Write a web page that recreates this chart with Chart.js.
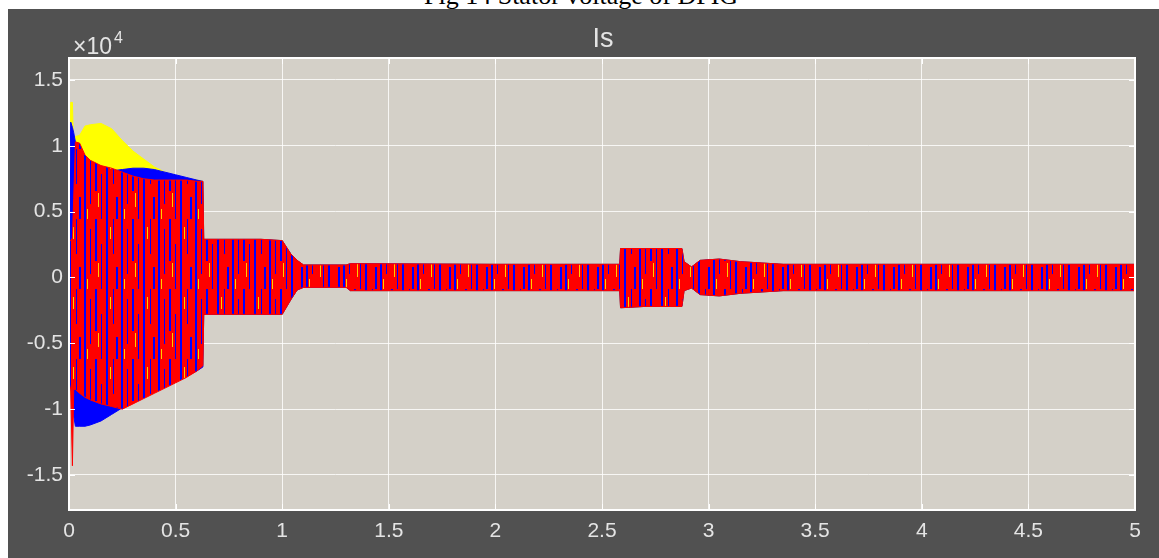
<!DOCTYPE html>
<html>
<head>
<meta charset="utf-8">
<script src="https://cdn.jsdelivr.net/npm/chart.js@4.4.1/dist/chart.umd.min.js"></script>
<style>
  html, body { margin: 0; padding: 0; background: #fff; overflow: hidden; width: 1159px; height: 558px; }
  #cap { position: absolute; left: 424px; top: -17px; font: 26px 'Liberation Serif', 'Times New Roman', serif;
         line-height: 26px; color: #000; white-space: nowrap; }
  #panel { position: absolute; left: 8px; top: 9px; width: 1151px; height: 549px; background: #515151; }
  canvas { display: block; }
</style>
</head>
<body>
<div id="cap">Fig 14 Stator voltage of DFIG</div>
<div id="panel"><canvas id="scope" width="1151" height="549"></canvas></div>
<script>
// time (s) and envelope of each phase current (x10^4 A)
const time = [0, 0.008, 0.016, 0.022, 0.03, 0.05, 0.075, 0.1, 0.15, 0.2, 0.25, 0.3, 0.35, 0.4, 0.45,
  0.5, 0.55, 0.6, 0.628, 0.632, 0.7, 0.8, 0.9, 1.0, 1.04, 1.07, 1.1, 1.3, 1.32, 2.0,
  2.583, 2.587, 2.7, 2.875, 2.885, 2.92, 2.96, 3.05, 3.15, 3.25, 3.35, 4.0, 5.0];

const redHi = [0.28, 0.28, 0.3, 0.6, 1.03, 1.02, 0.93, 0.89, 0.85, 0.83, 0.8, 0.77, 0.75, 0.74, 0.74,
  0.74, 0.74, 0.73, 0.73, 0.29, 0.29, 0.29, 0.29, 0.28, 0.18, 0.13, 0.095, 0.095, 0.105, 0.1,
  0.1, 0.22, 0.22, 0.22, 0.12, 0.08, 0.13, 0.14, 0.12, 0.11, 0.1, 0.1, 0.1];
const redLo = [-0.8, -0.85, -1.43, -0.85, -0.85, -0.88, -0.91, -0.93, -0.96, -0.98, -1.0, -0.96, -0.92, -0.88, -0.84,
  -0.8, -0.76, -0.71, -0.67, -0.28, -0.28, -0.28, -0.28, -0.28, -0.17, -0.095, -0.075, -0.075, -0.1, -0.1,
  -0.1, -0.23, -0.22, -0.22, -0.1, -0.08, -0.13, -0.14, -0.12, -0.11, -0.1, -0.1, -0.1];

const blueHi = [0.28, 1.18, 1.14, 1.1, 1.03, 0.96, 0.9, 0.87, 0.83, 0.81, 0.82, 0.83, 0.83, 0.82, 0.8,
  0.78, 0.76, 0.74, 0.73, 0.29, 0.29, 0.29, 0.29, 0.28, 0.18, 0.13, 0.095, 0.095, 0.105, 0.1,
  0.1, 0.22, 0.22, 0.22, 0.12, 0.08, 0.13, 0.14, 0.12, 0.11, 0.1, 0.1, 0.1];
const blueLo = [-0.82, -0.84, -0.9, -1.05, -1.13, -1.13, -1.13, -1.12, -1.09, -1.04, -0.99, -0.95, -0.9, -0.86, -0.82,
  -0.79, -0.75, -0.71, -0.68, -0.28, -0.28, -0.28, -0.28, -0.28, -0.17, -0.095, -0.075, -0.075, -0.1, -0.1,
  -0.1, -0.23, -0.22, -0.22, -0.1, -0.08, -0.13, -0.14, -0.12, -0.11, -0.1, -0.1, -0.1];

const yellowHi = [0.28, 1.33, 1.33, 0.95, 1.07, 1.08, 1.15, 1.16, 1.17, 1.13, 1.04, 0.96, 0.9, 0.84, 0.8,
  0.77, 0.75, 0.74, 0.73, 0.29, 0.29, 0.29, 0.29, 0.28, 0.18, 0.13, 0.095, 0.095, 0.105, 0.1,
  0.1, 0.22, 0.22, 0.22, 0.12, 0.08, 0.13, 0.14, 0.12, 0.11, 0.1, 0.1, 0.1];
const yellowLo = [-0.8, -0.89, -0.89, -0.85, -0.85, -0.87, -0.9, -0.92, -0.95, -0.97, -0.98, -0.95, -0.9, -0.86, -0.83,
  -0.79, -0.75, -0.7, -0.66, -0.28, -0.28, -0.28, -0.28, -0.28, -0.17, -0.095, -0.075, -0.075, -0.1, -0.1,
  -0.1, -0.23, -0.22, -0.22, -0.1, -0.08, -0.13, -0.14, -0.12, -0.11, -0.1, -0.1, -0.1];

const xTicks = [0, 0.5, 1, 1.5, 2, 2.5, 3, 3.5, 4, 4.5, 5];
const yTicks = [-1.5, -1, -0.5, 0, 0.5, 1, 1.5];

const TXT = '#e4e4e4';
const FONT = "'Liberation Sans', Arial, sans-serif";

// red trace with the other phases showing through as thin stripes
function stripes() {
  const c = document.createElement('canvas');
  c.width = 37; c.height = 70;
  const g = c.getContext('2d');
  g.fillStyle = '#ff0000';
  g.fillRect(0, 0, 37, 70);
  g.fillStyle = '#0000ff';
  [[2, 2, 0, 70], [8, 1, 10, 55], [13, 2, 0, 42], [19, 1, 25, 70], [24, 2, 0, 70], [31, 1, 0, 35], [34, 2, 48, 70]]
    .forEach(([x, w, a, b]) => g.fillRect(x, a, w, b - a));
  g.fillStyle = '#ffcc00';
  [[16, 1, 44, 58], [28, 1, 8, 20], [5, 1, 60, 70]].forEach(([x, w, a, b]) => g.fillRect(x, a, w, b - a));
  return g.createPattern(c, 'repeat');
}

const pts = ys => time.map((t, i) => ({ x: t, y: ys[i] }));

function band(hi, lo, color, fillStyle) {
  return [
    { data: pts(hi), borderColor: color, borderWidth: 1, pointRadius: 0, fill: false },
    { data: pts(lo), borderColor: color, borderWidth: 1, pointRadius: 0, fill: '-1', backgroundColor: fillStyle || color }
  ];
}

const scopeFrame = {
  id: 'scopeFrame',
  beforeDraw(chart) {
    const { ctx, chartArea: a } = chart;
    ctx.save();
    ctx.fillStyle = '#d4d0c8';
    ctx.fillRect(a.left, a.top, a.right - a.left, a.bottom - a.top);
    ctx.restore();
  },
  afterDraw(chart) {
    const { ctx, chartArea: a, scales } = chart;
    ctx.save();
    // inward ticks
    ctx.strokeStyle = '#ffffff';
    ctx.lineWidth = 1;
    ctx.beginPath();
    xTicks.forEach(v => {
      const x = Math.round(scales.x.getPixelForValue(v)) + 0.5;
      ctx.moveTo(x, a.bottom); ctx.lineTo(x, a.bottom - 6);
      ctx.moveTo(x, a.top); ctx.lineTo(x, a.top + 6);
    });
    yTicks.forEach(v => {
      const y = Math.round(scales.y.getPixelForValue(v)) + 0.5;
      ctx.moveTo(a.left, y); ctx.lineTo(a.left + 6, y);
      ctx.moveTo(a.right, y); ctx.lineTo(a.right - 6, y);
    });
    ctx.stroke();
    // box
    ctx.lineWidth = 2;
    ctx.strokeRect(a.left, a.top, a.right - a.left, a.bottom - a.top);

    // title
    ctx.fillStyle = TXT;
    ctx.font = '27px ' + FONT;
    ctx.textAlign = 'center';
    ctx.textBaseline = 'alphabetic';
    ctx.fillText('Is', (a.left + a.right) / 2 + 1, 38);

    // exponent label
    ctx.textAlign = 'left';
    ctx.font = '23px ' + FONT;
    const base = '\u00d710';
    ctx.fillText(base, a.left + 4, 45);
    const w = ctx.measureText(base).width;
    ctx.font = '16px ' + FONT;
    ctx.fillText('4', a.left + 4 + w + 2, 34);
    ctx.restore();
  }
};

new Chart(document.getElementById('scope'), {
  type: 'line',
  data: {
    datasets: [
      ...band(redHi, redLo, '#ff0000', stripes()),
      ...band(blueHi, blueLo, '#0000ff'),
      ...band(yellowHi, yellowLo, '#ffff00')
    ]
  },
  options: {
    responsive: false,
    animation: false,
    events: [],
    layout: { padding: { left: 11, right: 24, top: 49, bottom: 8 } },
    elements: { line: { tension: 0 } },
    plugins: { legend: { display: false }, tooltip: { enabled: false }, title: { display: false } },
    scales: {
      x: {
        type: 'linear', min: 0, max: 5,
        afterBuildTicks: s => { s.ticks = xTicks.map(v => ({ value: v })); },
        afterFit: s => { s.height = 40; },
        grid: { color: 'rgba(255,255,255,0.8)', lineWidth: 1, drawTicks: false },
        border: { display: false },
        ticks: { color: TXT, font: { family: FONT, size: 21 }, padding: 9, maxRotation: 0, autoSkip: false,
                 callback: v => String(v) }
      },
      y: {
        type: 'linear', min: -1.766, max: 1.667,
        afterBuildTicks: s => { s.ticks = yTicks.map(v => ({ value: v })); },
        afterFit: s => { s.width = 50; },
        grid: { color: 'rgba(255,255,255,0.8)', lineWidth: 1, drawTicks: false },
        border: { display: false },
        ticks: { color: TXT, font: { family: FONT, size: 21 }, padding: 6, autoSkip: false,
                 callback: v => String(v) }
      }
    }
  },
  plugins: [scopeFrame]
});
</script>
</body>
</html>
